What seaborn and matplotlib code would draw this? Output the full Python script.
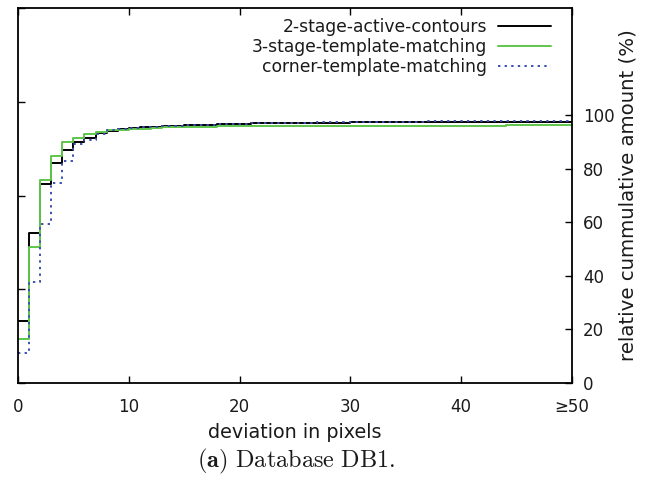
import matplotlib
matplotlib.use("Agg")
import matplotlib.pyplot as plt
import seaborn as sns
import pandas as pd

# deviation in pixels (last bin = ">=50")
deviation = list(range(0, 51))
x_ticks = [0, 10, 20, 30, 40, 50]
x_tick_labels = ["0", "10", "20", "30", "40", "≥50"]
y_ticks = [0, 20, 40, 60, 80, 100]

active_contours = [23.0, 56.1, 74.3, 82.2, 86.9, 89.8, 91.3, 93.4, 94.2, 94.7,
                   95.1, 95.4, 95.6, 95.8, 96.0, 96.2, 96.4, 96.5, 96.6, 96.7,
                   96.8, 96.9, 96.9, 97.0, 97.0, 97.1, 97.1, 97.2, 97.2, 97.2,
                   97.3, 97.3, 97.3, 97.3, 97.4, 97.4, 97.4, 97.4, 97.4, 97.4,
                   97.5, 97.5, 97.5, 97.5, 97.5, 97.5, 97.5, 97.5, 97.5, 97.5, 97.5]
template_matching = [16.5, 50.6, 75.7, 84.8, 89.8, 91.5, 93.0, 93.8, 94.3, 94.6,
                     94.8, 95.0, 95.2, 95.4, 95.5, 95.6, 95.7, 95.7, 95.8, 95.8,
                     95.8, 95.9, 95.9, 95.9, 96.0, 96.0, 96.0, 96.0, 96.0, 96.0,
                     96.0, 96.0, 96.1, 96.1, 96.1, 96.1, 96.1, 96.1, 96.1, 96.1,
                     96.1, 96.1, 96.1, 96.1, 96.4, 96.4, 96.4, 96.4, 96.4, 96.4, 96.4]
corner_matching = [11.1, 37.8, 59.3, 74.5, 82.9, 89.4, 90.9, 93.1, 94.4, 95.0,
                   95.3, 95.5, 95.7, 95.9, 96.1, 96.2, 96.4, 96.5, 96.6, 96.7,
                   96.8, 96.9, 97.0, 97.0, 97.1, 97.1, 97.2, 97.3, 97.3, 97.4,
                   97.5, 97.5, 97.5, 97.6, 97.6, 97.6, 97.6, 97.7, 97.7, 97.7,
                   97.7, 97.7, 97.7, 97.8, 97.8, 97.8, 97.8, 97.8, 97.8, 97.8, 97.8]

series = {
    "2-stage-active-contours": active_contours,
    "3-stage-template-matching": template_matching,
    "corner-template-matching": corner_matching,
}
styles = {
    "2-stage-active-contours": dict(color="#000000", linestyle="-"),
    "3-stage-template-matching": dict(color="#5fc64b", linestyle="-"),
    "corner-template-matching": dict(color="#3a4fb0", linestyle=(0, (1.2, 2.2))),
}

sns.set_theme(style="white")
plt.rcParams["font.family"] = ["DejaVu Sans"]
plt.rcParams["mathtext.fontset"] = "cm"
plt.rcParams["text.color"] = "#1a1a1a"
plt.rcParams["axes.labelcolor"] = "#1a1a1a"
plt.rcParams["xtick.color"] = "#1a1a1a"
plt.rcParams["ytick.color"] = "#1a1a1a"

fig = plt.figure(figsize=(6.46, 4.82), dpi=100)
ax = fig.add_axes([18 / 646, 1 - 383 / 482, (572 - 18) / 646, (383 - 8) / 482])

for name, vals in series.items():
    df = pd.DataFrame({"deviation": deviation, "amount": vals})
    sns.lineplot(data=df, x="deviation", y="amount", ax=ax, label=name,
                 drawstyle="steps-post", linewidth=1.4, **styles[name])

ax.set_xlim(0, 50)
ax.set_ylim(0, 140)
ax.set_xticks(x_ticks)
ax.set_xticklabels(x_tick_labels)
ax.set_yticks([0, 35, 70, 105, 140])
ax.set_xlabel("deviation in pixels", fontsize=13.8, labelpad=5)
ax.set_ylabel("")
ax.tick_params(axis="both", direction="in", length=5, width=1, color="black",
               top=True, bottom=True, left=True, right=False,
               labelleft=False, labelsize=12, pad=11)
for s in ax.spines.values():
    s.set_color("black")
    s.set_linewidth(1.3)

ax2 = ax.twinx()
ax2.set_ylim(0, 140)
ax2.set_yticks(y_ticks)
ax2.set_yticklabels([str(v) for v in y_ticks])
ax2.tick_params(axis="y", direction="in", length=5, width=1, color="black",
                labelsize=12, pad=8)
ax2.set_ylabel("relative cummulative amount (%)", fontsize=14.2, labelpad=3)
for s in ax2.spines.values():
    s.set_visible(False)
ax2.grid(False)
ax.grid(False)

leg = ax.legend(loc="upper right", bbox_to_anchor=(0.962, 0.974),
                frameon=False, markerfirst=False, fontsize=12.3,
                handlelength=3.1, handletextpad=0.65, labelspacing=0.13,
                borderaxespad=0.0, borderpad=0.0)

fig.text(0.459, 1 - 461 / 482, r"$\mathbf{(a)}$ $\mathrm{Database\ DB1.}$",
         ha="center", va="center", fontsize=17.5)

fig.savefig("out.png", dpi=100)
